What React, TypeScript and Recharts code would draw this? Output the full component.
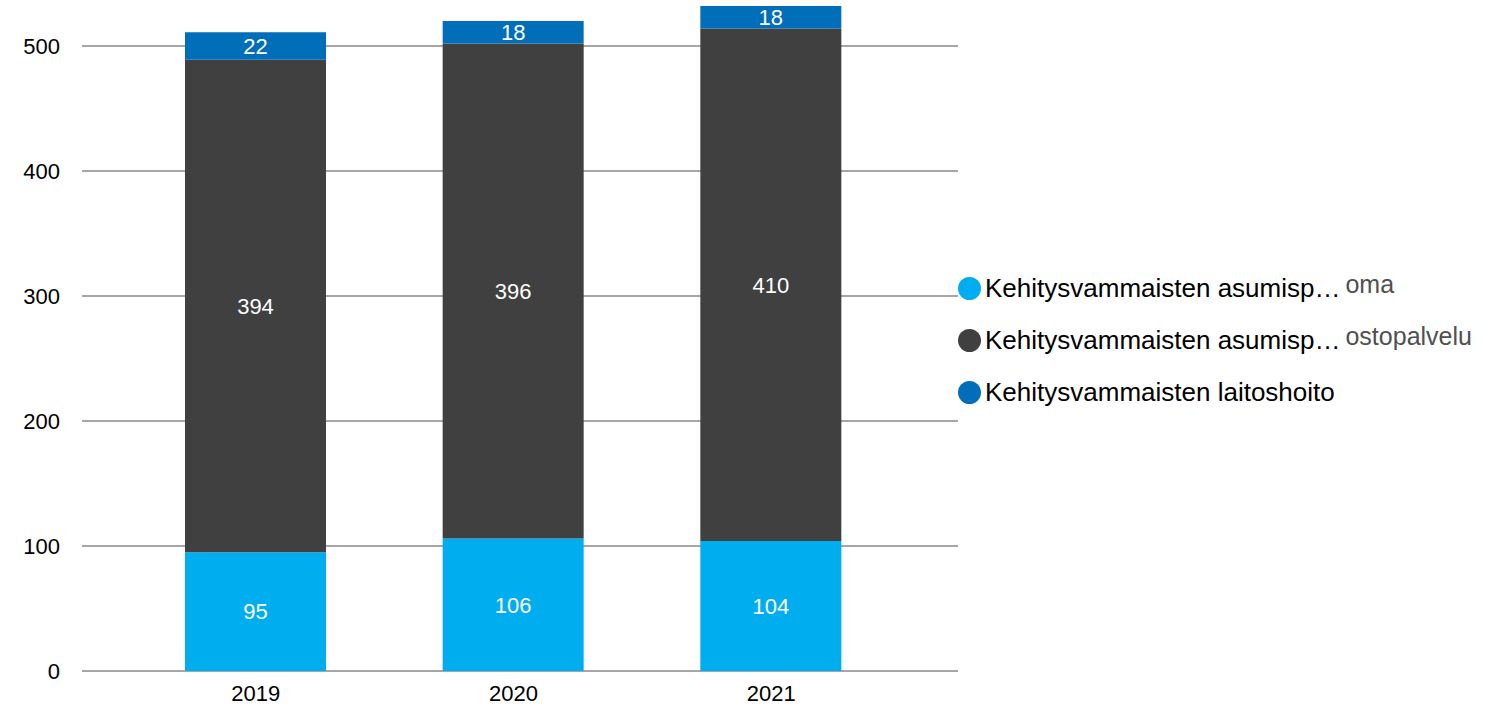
import { Bar, BarChart, CartesianGrid, LabelList, XAxis, YAxis } from "recharts"

const years = ['2019', '2020', '2021']
const omaValues = [95, 106, 104]
const ostopalveluValues = [394, 396, 410]
const laitosValues = [22, 18, 18]
const yTicks = [0, 100, 200, 300, 400, 500]
const yMax = 536

const seriesNames = [
  { key: 'oma', name: 'Kehitysvammaisten asumisp…', extra: 'oma', color: '#00ADEE' },
  { key: 'osto', name: 'Kehitysvammaisten asumisp…', extra: 'ostopalvelu', color: '#404040' },
  { key: 'laitos', name: 'Kehitysvammaisten laitoshoito', extra: '', color: '#006EB9' },
]

const data = years.map((year, i) => ({
  year,
  oma: omaValues[i],
  osto: ostopalveluValues[i],
  laitos: laitosValues[i],
}))

const font = 'Arial, "Liberation Sans", sans-serif'

function SideLegend() {
  return (
    <div style={{ position: 'absolute', left: 958, top: 262, fontFamily: font }}>
      {seriesNames.map((s) => (
        <div key={s.key} style={{ display: 'flex', alignItems: 'baseline', height: 52, lineHeight: '52px', whiteSpace: 'nowrap' }}>
          <span style={{ width: 23, height: 23, borderRadius: 12, background: s.color, display: 'inline-block', marginRight: 4, alignSelf: 'center' }} />
          <span style={{ fontSize: 26, color: '#000' }}>{s.name}</span>
          {s.extra && (
            <span style={{ fontSize: 25, color: '#505050', marginLeft: 5, position: 'relative', top: -4 }}>{s.extra}</span>
          )}
        </div>
      ))}
    </div>
  )
}

// grid lines only on the labelled ticks
const gridLines = ({ offset }: any) =>
  yTicks.map((t) => offset.top + offset.height * (1 - t / yMax))

export default function App() {
  return (
    <div style={{ position: 'fixed', left: 0, top: 0, width: 1487, height: 710, background: '#fff' }}>
      <BarChart
        width={1487}
        height={710}
        data={data}
        margin={{ top: 1, right: 529, bottom: 0, left: 0 }}
        barSize={141}
      >
        <CartesianGrid
          vertical={false}
          stroke="#A6A6A6"
          strokeWidth={2}
          horizontalCoordinatesGenerator={gridLines}
        />
        <XAxis
          dataKey="year"
          height={39}
          axisLine={false}
          tickLine={false}
          tickSize={0}
          tickMargin={14}
          padding={{ left: 45, right: 58 }}
          tick={{ fill: '#000', fontSize: 22, fontFamily: font }}
        />
        <YAxis
          width={82}
          domain={[0, yMax]}
          ticks={yTicks}
          axisLine={false}
          tickLine={false}
          tickSize={0}
          tickMargin={22}
          tick={{ fill: '#000', fontSize: 22, fontFamily: font }}
        />
        {seriesNames.map((s) => (
          <Bar key={s.key} dataKey={s.key} stackId="a" fill={s.color} isAnimationActive={false}>
            <LabelList
              dataKey={s.key}
              position="center"
              fill="#fff"
              fontSize={22}
              fontFamily={font}
            />
          </Bar>
        ))}
      </BarChart>
      <SideLegend />
    </div>
  )
}
